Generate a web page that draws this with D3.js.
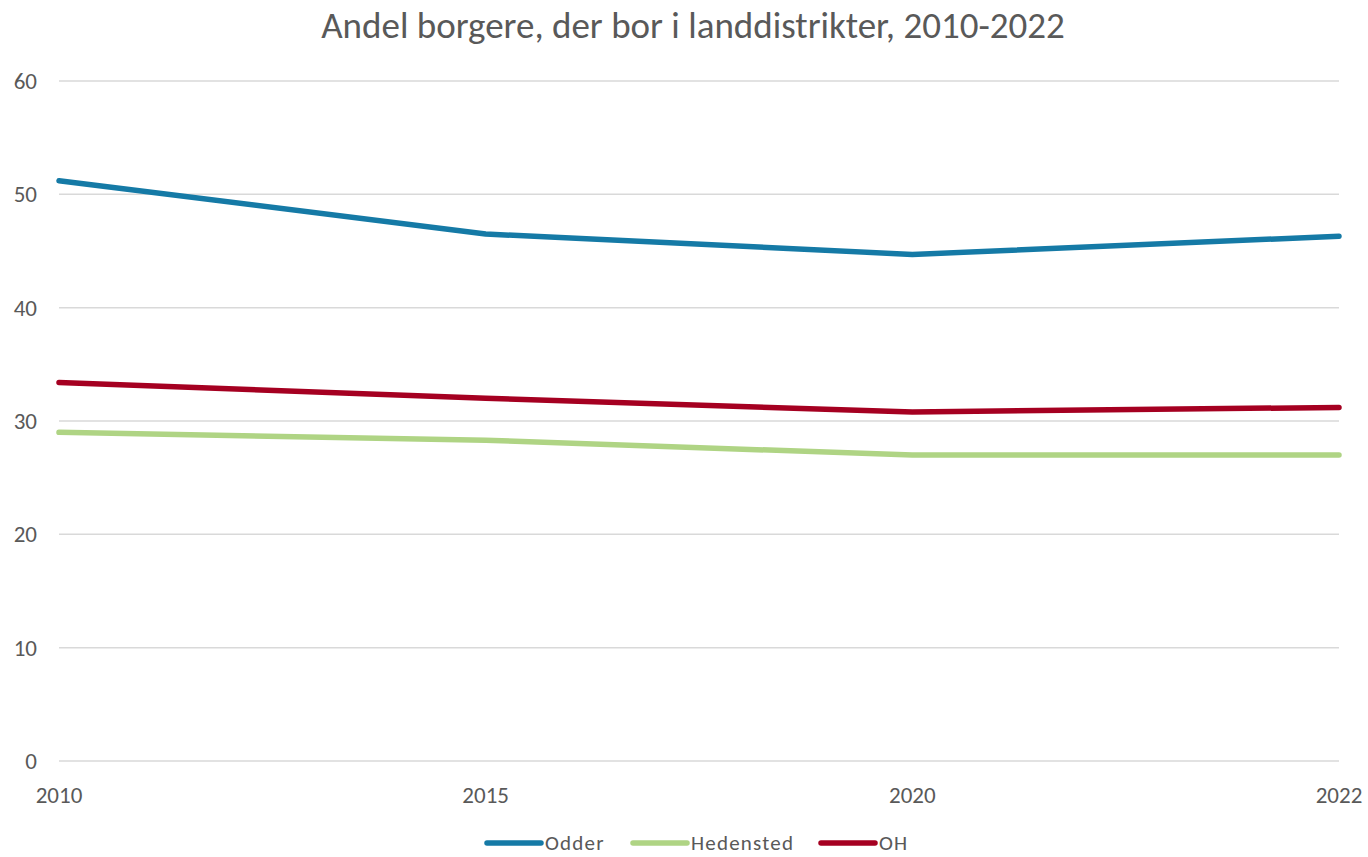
<!DOCTYPE html>
<html>
<head>
<meta charset="utf-8">
<script src="https://cdn.jsdelivr.net/npm/d3@7"></script>
<style>
  body { margin: 0; background: #fff; }
  text { font-family: Carlito, Calibri, Lato, "Liberation Sans", sans-serif; fill: #595959; }
</style>
</head>
<body>
<div id="chart"></div>
<script>
// data
var years = ["2010", "2015", "2020", "2022"];
var odder = [51.2, 46.5, 44.7, 46.3];
var hedensted = [29.0, 28.3, 27.0, 27.0];
var oh = [33.4, 32.0, 30.8, 31.2];
var yTicks = [0, 10, 20, 30, 40, 50, 60];

var series = [
  {name: "Odder", values: odder, color: "#157aa6"},
  {name: "Hedensted", values: hedensted, color: "#afd484"},
  {name: "OH", values: oh, color: "#a50021"}
];

var width = 1368, height = 857;
var margin = {top: 81, right: 29, bottom: 96, left: 59};

var svg = d3.select("#chart").append("svg")
    .attr("width", width)
    .attr("height", height);

var x = d3.scalePoint()
    .domain(years)
    .range([margin.left, width - margin.right]);

var y = d3.scaleLinear()
    .domain([0, 60])
    .range([height - margin.bottom, margin.top]);

// title
svg.append("text")
    .attr("x", 693)
    .attr("y", 38)
    .attr("text-anchor", "middle")
    .style("font-size", "37px")
    .text("Andel borgere, der bor i landdistrikter, 2010-2022");

// gridlines
svg.append("g")
    .selectAll("line")
    .data(yTicks)
    .enter().append("line")
    .attr("x1", margin.left)
    .attr("x2", width - margin.right)
    .attr("y1", function(d) { return y(d); })
    .attr("y2", function(d) { return y(d); })
    .attr("stroke", "#d9d9d9")
    .attr("stroke-width", 1.5);

// y tick labels
svg.append("g")
    .selectAll("text")
    .data(yTicks)
    .enter().append("text")
    .attr("x", 37)
    .attr("y", function(d) { return y(d); })
    .attr("dy", "0.35em")
    .attr("text-anchor", "end")
    .style("font-size", "23px")
    .text(function(d) { return d; });

// x tick labels
svg.append("g")
    .selectAll("text")
    .data(years)
    .enter().append("text")
    .attr("x", function(d) { return x(d); })
    .attr("y", 803)
    .attr("text-anchor", "middle")
    .style("font-size", "23px")
    .text(function(d) { return d; });

var line = d3.line()
    .x(function(d, i) { return x(years[i]); })
    .y(function(d) { return y(d); });

svg.append("g")
    .selectAll("path")
    .data(series)
    .enter().append("path")
    .attr("d", function(s) { return line(s.values); })
    .attr("fill", "none")
    .attr("stroke", function(s) { return s.color; })
    .attr("stroke-width", 5.5)
    .attr("stroke-linecap", "round")
    .attr("stroke-linejoin", "round");

// legend
var legendX = [487, 633, 821];
var leg = svg.append("g")
    .selectAll("g")
    .data(series)
    .enter().append("g")
    .attr("transform", function(d, i) { return "translate(" + legendX[i] + ",843)"; });

leg.append("line")
    .attr("x1", 0).attr("x2", 54)
    .attr("stroke", function(d) { return d.color; })
    .attr("stroke-width", 5.5)
    .attr("stroke-linecap", "round");

leg.append("text")
    .attr("x", 58)
    .attr("dy", "0.35em")
    .style("font-size", "21px")
    .style("letter-spacing", "1.2px")
    .text(function(d) { return d.name; });
</script>
</body>
</html>
